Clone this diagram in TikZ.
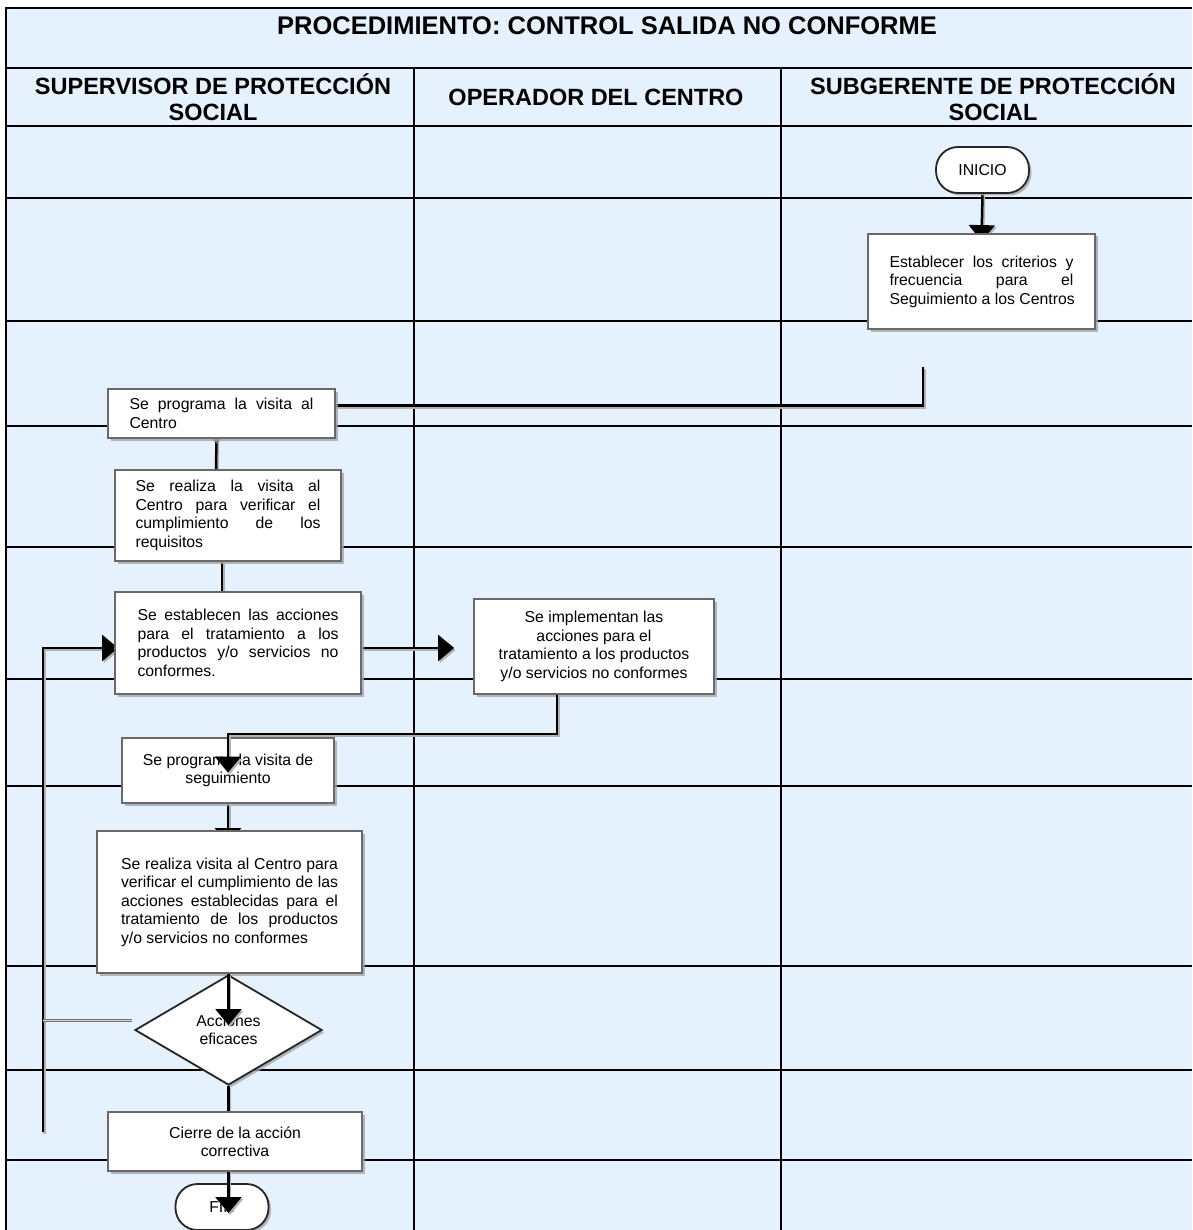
\documentclass[tikz,border=0pt]{standalone}
\usepackage{fontspec}
\setmainfont{Liberation Sans}
\usepackage{tikz}
\usetikzlibrary{arrows.meta,calc,positioning,shapes.geometric,shadows}
\definecolor{lanebg}{RGB}{229,241,253}
\definecolor{boxgray}{RGB}{105,105,105}
\newcommand{\jfull}[2]{\makebox[#1][s]{#2}}
\newcommand{\jlast}[2]{\makebox[#1][l]{#2}}
\pgfdeclarelayer{lanes}
\pgfdeclarelayer{under}
\pgfsetlayers{lanes,under,main}
\tikzset{
  grid line/.style={black, line width=2pt},
  procbox/.style={draw=boxgray, line width=1.8pt, fill=white, inner sep=0pt,
    drop shadow={shadow xshift=2.5pt, shadow yshift=-2.5pt, fill=gray!70, opacity=0.8},
    font=\fontsize{15.8}{18.5}\selectfont, align=center},
  termbox/.style={procbox, draw=black!85, rounded corners=22pt},
  decbox/.style={procbox, diamond, aspect=1.7, draw=black!85},
  flow/.style={black, line width=2.5pt,
    preaction={draw=gray!60, line width=2.5pt, transform canvas={shift={(1.5pt,-2pt)}}}},
  tipend/.style={-{Triangle[width=26pt,length=16pt]}},
  noline/.style={draw=black!55, line width=1pt, double=gray!35, double distance=1pt},
  lanehead/.style={font=\fontsize{23.5}{26}\selectfont\bfseries, align=center},
}
\begin{document}
\begin{tikzpicture}[x=1pt,y=-1pt]
  \useasboundingbox (0,0) rectangle (1192,1230);
  % lanes
  \begin{pgfonlayer}{lanes}
  \fill[lanebg] (6,8) rectangle (1192,1230);
  \draw[grid line] (6,1230) -- (6,8) -- (1192,8);
  \foreach \yy in {68,126,198,321,426,547,679,786,966,1070,1160}
    \draw[grid line] (6,\yy) -- (1192,\yy);
  \draw[grid line] (414,68) -- (414,1230);
  \draw[grid line] (781,68) -- (781,1230);
  \end{pgfonlayer}
  % title and lane headers
  \node[font=\fontsize{25.5}{30}\selectfont\bfseries] (title) at (607,26) {PROCEDIMIENTO: CONTROL SALIDA NO CONFORME};
  \node[lanehead] (supervisor) at (213,97) {SUPERVISOR DE PROTECCIÓN\\SOCIAL};
  \node[lanehead] (operador) at (596,97) {OPERADOR DEL CENTRO};
  \node[lanehead] (subgerente) at (993,97) {SUBGERENTE DE PROTECCIÓN\\SOCIAL};

  % free ends of connectors
  \coordinate (critout) at (923,367);
  \coordinate (loopbot) at (43,1132);
  \coordinate (nobr) at (43,1020);

  % steps
  \node[termbox, minimum width=93pt, minimum height=46pt] (inicio) at (982.5,170) {INICIO};
  \node[procbox, minimum width=227pt, minimum height=95pt] (crit) at (981.5,281.5)
    {\jfull{184pt}{Establecer los criterios y}\\\jfull{184pt}{frecuencia para el}\\\jlast{184pt}{Seguimiento a los Centros}};
  \node[procbox, minimum width=227pt, minimum height=49pt] (prog) at (221.5,413.5)
    {\jfull{184pt}{Se programa la visita al}\\\jlast{184pt}{Centro}};
  \node[procbox, minimum width=226pt, minimum height=91pt] (visita) at (228,515.5)
    {\jfull{185pt}{Se realiza la visita al}\\\jfull{185pt}{Centro para verificar el}\\\jfull{185pt}{cumplimiento de los}\\\jlast{185pt}{requisitos}};
  \node[procbox, minimum width=246pt, minimum height=102pt] (acc) at (238,643)
    {\jfull{201pt}{Se establecen las acciones}\\\jfull{201pt}{para el tratamiento a los}\\\jfull{201pt}{productos y/o servicios no}\\\jlast{201pt}{conformes.}};
  \node[procbox, minimum width=240pt, minimum height=95pt] (impl) at (594,646.5)
    {Se implementan las\\acciones para el\\tratamiento a los productos\\y/o servicios no conformes};
  \node[procbox, minimum width=212pt, minimum height=65pt] (seg) at (228,770.5)
    {Se programa la visita de\\seguimiento};
  \node[procbox, minimum width=265pt, minimum height=142pt] (verif) at (229.5,902)
    {\jfull{217pt}{Se realiza visita al Centro para}\\\jfull{217pt}{verificar el cumplimiento de las}\\\jfull{217pt}{acciones establecidas para el}\\\jfull{217pt}{tratamiento de los productos}\\\jlast{217pt}{y/o servicios no conformes}};
  \node[decbox, minimum width=187pt, minimum height=110pt] (dec) at (228.5,1030) {Acciones\\eficaces};
  \node[procbox, minimum width=254pt, minimum height=59pt] (cierre) at (235,1141.5)
    {Cierre de la acción\\correctiva};
  \node[termbox, minimum width=93pt, minimum height=46pt] (fin) at (222,1207) {FIN};

  % connectors that pass below the boxes
  \begin{pgfonlayer}{under}
  \draw[flow, tipend] (inicio.south) -- ($(crit.north)+(0,8)$);
  \draw[flow] (critout) |- ($(prog.east)+(0,-8)$);
  \draw[flow] ($(prog.south)+(-5,0)$) -- ($(visita.north)+(-12,0)$);
  \draw[tipend, line width=2.5pt, boxgray] ($(prog.south)+(-5,-30)$) -- ($(prog.south)+(-5,5)$);
  \draw[flow] ($(visita.south)+(-6,0)$) -- ++(0,32);
  \draw[flow, tipend] ($(acc.east)+(0,5)$) -- ($(impl.west)+(-19,1.5)$);
  \draw[flow, tipend] (loopbot) |- ($(acc.west)+(4,5)$);
  \draw[noline] ($(dec.west)+(-2,-10)$) -- (nobr);
  \draw[flow, tipend] (seg.south) -- ($(verif.north)+(-1.5,14)$);
  \draw[flow] (dec.south) -- (dec.south |- cierre.north);
  \end{pgfonlayer}

  % connectors drawn over the boxes
  \draw[flow, tipend] ($(impl.south)+(-37,0)$) -- ++(0,39) -| ($(seg.center)+(0,2)$);
  \draw[flow, tipend] (verif.south -| dec.center) -- ($(dec.center)+(0,-5)$);
  \draw[flow, tipend] (dec.south |- cierre.south) -- ($(dec.south |- fin.center)+(0,6)$);
\end{tikzpicture}
\end{document}
